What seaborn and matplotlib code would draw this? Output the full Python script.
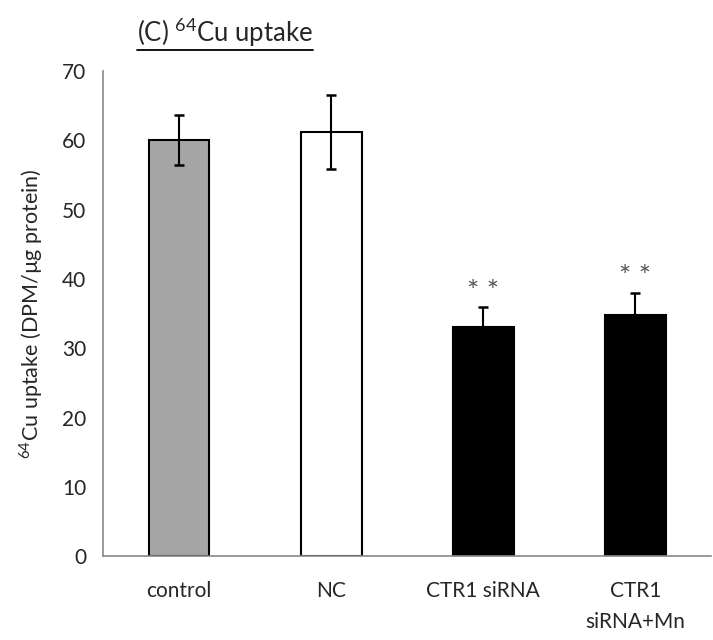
import matplotlib
matplotlib.use("Agg")
import matplotlib.pyplot as plt
import seaborn as sns
import pandas as pd
from matplotlib.lines import Line2D

# dados
grupos = ["control", "NC", "CTR1 siRNA", "CTR1\nsiRNA+Mn"]
captacao = [60.0, 61.2, 33.1, 34.8]
erro = [3.6, 5.4, 2.8, 3.2]
significancia = ["", "", "* *", "* *"]
cores = ["#a6a6a6", "#ffffff", "#000000", "#000000"]

df = pd.DataFrame({"grupo": grupos, "valor": captacao})

sns.set_style("white")
plt.rcParams["font.family"] = ["Lato", "DejaVu Sans"]
plt.rcParams["mathtext.fontset"] = "custom"
plt.rcParams["mathtext.rm"] = "Lato"

fig = plt.figure(figsize=(7.13, 6.4), dpi=100)
ax = fig.add_axes([0.1445, 0.131, 0.853, 0.758])

sns.barplot(data=df, x="grupo", y="valor", hue="grupo", palette=cores,
            legend=False, width=0.4, edgecolor="black", linewidth=1.5, ax=ax)
ax.errorbar(range(len(grupos)), captacao, yerr=erro, fmt="none",
            ecolor="black", elinewidth=1.5, capsize=3.5, capthick=1.8)
for i, s in enumerate(significancia):
    if s:
        ax.text(i, captacao[i] + erro[i] + 2.1, s, ha="center", va="center",
                fontsize=21, color="#555555")

ax.set_xlim(-0.5, 3.5)
ax.set_ylim(0, 70)
ax.set_yticks(range(0, 71, 10))
ax.set_xticks([-0.5, 0.5, 1.5, 2.5, 3.5], minor=True)
ax.tick_params(axis="x", which="major", length=0, pad=18, labelsize=15)
ax.tick_params(axis="x", which="minor", length=7, direction="out", color="#888888")
ax.tick_params(axis="y", length=6, direction="out", color="#888888", labelsize=15, pad=6)
for lbl in ax.get_xticklabels():
    lbl.set_linespacing(1.7)
for lado in ["top", "right"]:
    ax.spines[lado].set_visible(False)
for lado in ["left", "bottom"]:
    ax.spines[lado].set_color("#888888")
    ax.spines[lado].set_linewidth(1.2)

ax.set_xlabel("")
ax.set_ylabel(r"$^{64}$Cu uptake (DPM/µg protein)", fontsize=15.5, labelpad=12)

titulo = fig.text(0.192, 0.935, r"(C) $^{64}$Cu uptake", fontsize=18.5, ha="left", va="baseline")
fig.canvas.draw()
bb = titulo.get_window_extent().transformed(fig.transFigure.inverted())
fig.add_artist(Line2D([bb.x0, bb.x1], [bb.y0 - 0.002, bb.y0 - 0.002],
                      transform=fig.transFigure, color="black", linewidth=1.3))

fig.savefig("out.png", dpi=100)
